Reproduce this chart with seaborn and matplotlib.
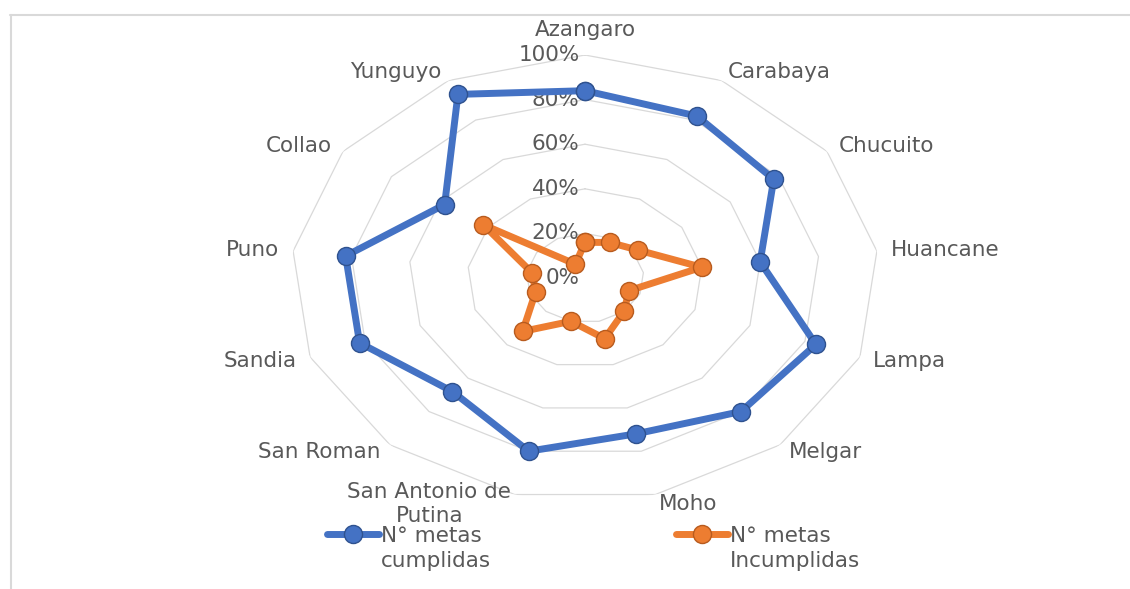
import numpy as np
import pandas as pd
import matplotlib
matplotlib.use("Agg")
import matplotlib.pyplot as plt
import matplotlib.transforms as mtransforms
from matplotlib.lines import Line2D
import seaborn as sns

# Data
provincias = ["Azangaro", "Carabaya", "Chucuito", "Huancane", "Lampa", "Melgar", "Moho",
              "San Antonio de\nPutina", "San Roman", "Sandia", "Puno", "Collao", "Yunguyo"]
cumplidas = [84, 82, 78, 60, 84, 80, 72, 80, 68, 82, 82, 58, 93]
incumplidas = [16, 18, 22, 40, 16, 20, 28, 20, 32, 18, 18, 42, 7]
niveles = [0, 20, 40, 60, 80, 100]
etiquetas_niveles = ["0%", "20%", "40%", "60%", "80%", "100%"]
series = ["N° metas\ncumplidas", "N° metas\nIncumplidas"]
colores = ["#4472C4", "#ED7D31"]
bordes = ["#2F528F", "#B85B1E"]

sns.set_style("white")
plt.rcParams["font.family"] = ["DejaVu Sans"]
texto = "#595959"
fs = 15.5

n = len(provincias)
ang = np.linspace(0, 2 * np.pi, n, endpoint=False)
ang_c = np.append(ang, 2 * np.pi)

fig = plt.figure(figsize=(11.3, 5.89), dpi=100)
ax = fig.add_axes([0.2575, 0.1494, 0.5204, 0.7572], projection="polar")
ax.set_aspect("auto")
ax.set_theta_zero_location("N")
ax.set_theta_direction(-1)

# polygon gridlines like Excel
for r in niveles[1:]:
    ax.plot(ang_c, [r] * (n + 1), color="#d9d9d9", lw=0.9, zorder=1)

df = pd.DataFrame({
    "ang": np.concatenate([ang_c, ang_c]),
    "valor": np.concatenate([cumplidas + cumplidas[:1], incumplidas + incumplidas[:1]]),
    "serie": [series[0]] * (n + 1) + [series[1]] * (n + 1),
})

handles = []
for s, c, e in zip(series, colores, bordes):
    sub = df[df["serie"] == s]
    sns.lineplot(data=sub, x="ang", y="valor", ax=ax, sort=False, estimator=None,
                 color=c, lw=5, marker="o", markersize=13, markeredgecolor=e,
                 markeredgewidth=1.0, zorder=4, legend=False)
    handles.append(Line2D([0], [0], color=c, lw=5, marker="o", markersize=13,
                          markeredgecolor=e, markeredgewidth=1.0))

ax.set_ylim(0, 100)
ax.set_xticks(ang)
ax.set_xticklabels([])
ax.set_yticks(niveles)
ax.set_yticklabels([])
ax.grid(False)
ax.spines["polar"].set_visible(False)
ax.set_xlabel("")
ax.set_ylabel("")

# radial value labels along the top axis
off = mtransforms.offset_copy(ax.transData, fig=fig, x=-4, y=0, units="points")
for v, t in zip(niveles, etiquetas_niveles):
    ax.text(0, v, t, transform=off, ha="right", va="center", fontsize=fs,
            color=texto, zorder=2)

# category labels outside the outer ring
for a, lab in zip(ang, provincias):
    s, c = np.sin(a), np.cos(a)
    ha = "left" if s > 0.1 else ("right" if s < -0.1 else "center")
    va = "bottom" if c > 0.95 else "center"
    dy = 11 if c > 0.95 else 7 * c
    tr = mtransforms.offset_copy(ax.transData, fig=fig, x=10 * s, y=dy, units="points")
    ax.text(a, 100, lab, transform=tr, ha=ha, va=va, fontsize=fs, color=texto,
            multialignment="center")

leg = fig.legend(handles, series, loc="upper left", bbox_to_anchor=(0.282, 0.122), ncol=2,
                 frameon=False, fontsize=fs, labelcolor=texto, handlelength=2.4,
                 handletextpad=0.1, columnspacing=8.6, borderaxespad=0)
for t in leg.get_texts():
    t.set_linespacing(1.35)
# Excel puts the legend key next to the first text line
for h in leg.legend_handles:
    h.set_ydata(np.asarray(h.get_ydata()) + 10.5)

# chart frame (partially cropped)
fig.add_artist(Line2D([10 / 1130, 1], [1 - 15 / 589] * 2, transform=fig.transFigure,
                      color="#d9d9d9", lw=1.5))
fig.add_artist(Line2D([11 / 1130] * 2, [0, 1 - 15 / 589], transform=fig.transFigure,
                      color="#d9d9d9", lw=1.5))

fig.savefig("out.png", dpi=100, facecolor="white")
